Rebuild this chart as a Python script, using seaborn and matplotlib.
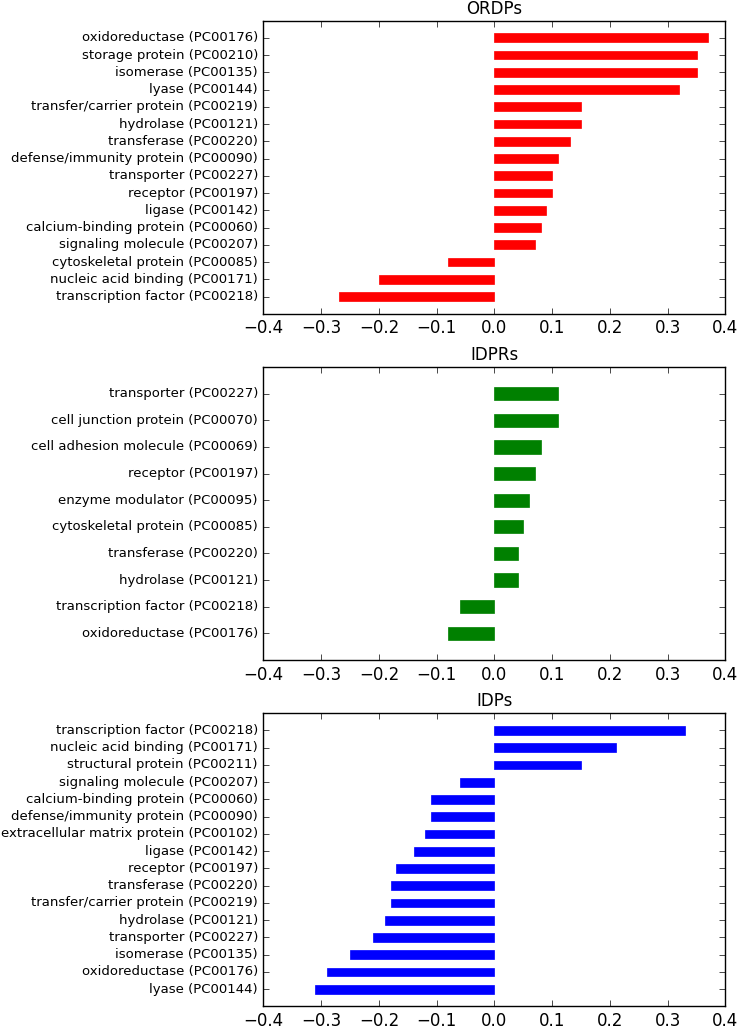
import matplotlib
matplotlib.use("Agg")
import matplotlib.pyplot as plt
import seaborn as sns
import pandas as pd

ordps_labels = [
    "oxidoreductase (PC00176)", "storage protein (PC00210)", "isomerase (PC00135)",
    "lyase (PC00144)", "transfer/carrier protein (PC00219)", "hydrolase (PC00121)",
    "transferase (PC00220)", "defense/immunity protein (PC00090)", "transporter (PC00227)",
    "receptor (PC00197)", "ligase (PC00142)", "calcium-binding protein (PC00060)",
    "signaling molecule (PC00207)", "cytoskeletal protein (PC00085)",
    "nucleic acid binding (PC00171)", "transcription factor (PC00218)",
]
ordps_values = [0.37, 0.35, 0.35, 0.32, 0.15, 0.15, 0.13, 0.11, 0.10, 0.10,
                0.09, 0.08, 0.07, -0.08, -0.20, -0.27]

idprs_labels = [
    "transporter (PC00227)", "cell junction protein (PC00070)",
    "cell adhesion molecule (PC00069)", "receptor (PC00197)",
    "enzyme modulator (PC00095)", "cytoskeletal protein (PC00085)",
    "transferase (PC00220)", "hydrolase (PC00121)",
    "transcription factor (PC00218)", "oxidoreductase (PC00176)",
]
idprs_values = [0.11, 0.11, 0.08, 0.07, 0.06, 0.05, 0.04, 0.04, -0.06, -0.08]

idps_labels = [
    "transcription factor (PC00218)", "nucleic acid binding (PC00171)",
    "structural protein (PC00211)", "signaling molecule (PC00207)",
    "calcium-binding protein (PC00060)", "defense/immunity protein (PC00090)",
    "extracellular matrix protein (PC00102)", "ligase (PC00142)",
    "receptor (PC00197)", "transferase (PC00220)",
    "transfer/carrier protein (PC00219)", "hydrolase (PC00121)",
    "transporter (PC00227)", "isomerase (PC00135)",
    "oxidoreductase (PC00176)", "lyase (PC00144)",
]
idps_values = [0.33, 0.21, 0.15, -0.06, -0.11, -0.11, -0.12, -0.14, -0.17,
               -0.18, -0.18, -0.19, -0.21, -0.25, -0.29, -0.31]

panels = [
    ("ORDPs", ordps_labels, ordps_values, "#ff0000"),
    ("IDPRs", idprs_labels, idprs_values, "#008000"),
    ("IDPs", idps_labels, idps_values, "#0000ff"),
]
xticks = [-0.4, -0.3, -0.2, -0.1, 0.0, 0.1, 0.2, 0.3, 0.4]

plt.style.use("classic")
plt.rcParams["figure.facecolor"] = "white"
plt.rcParams["savefig.facecolor"] = "white"

fig, axes = plt.subplots(3, 1, figsize=(7.38, 10.27), dpi=100)
fig.subplots_adjust(left=0.357, right=0.983, top=0.98, bottom=0.02, hspace=0.181)

for ax, (title, labels, values, color) in zip(axes, panels):
    df = pd.DataFrame({"category": labels, "value": values})
    sns.barplot(data=df, x="value", y="category", orient="h", color=color,
                saturation=1, width=0.5, edgecolor=color, linewidth=0.5, ax=ax)
    ax.set_ylim(len(labels), -1)
    ax.set_xlim(-0.4, 0.4)
    ax.set_xticks(xticks)
    ax.set_xticklabels([f"{t:.1f}".replace("-", "\u2212") for t in xticks])
    ax.set_xlabel("")
    ax.set_ylabel("")
    ax.set_title(title, fontsize=12)
    ax.tick_params(axis="y", labelsize=9.5)
    ax.tick_params(axis="x", labelsize=12)
    ax.tick_params(direction="in", top=True, right=True)

fig.savefig("out.png", dpi=100)
